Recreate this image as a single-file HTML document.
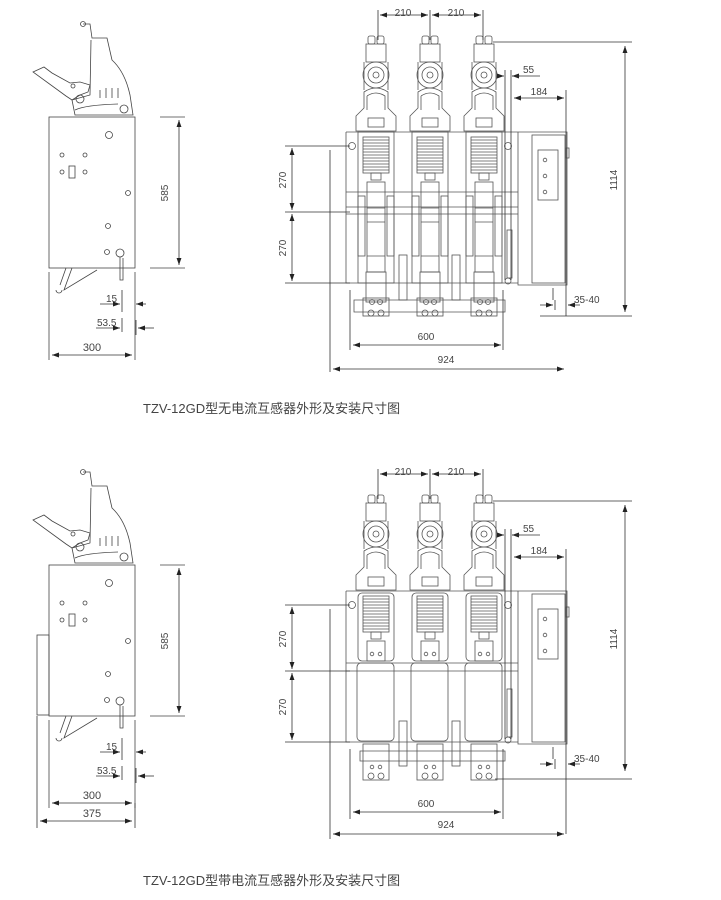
<!DOCTYPE html>
<html><head><meta charset="utf-8"><style>
html,body{margin:0;padding:0;background:#fff;}
svg{display:block;}
text{font-family:"Liberation Sans","Noto Sans CJK SC",sans-serif;fill:#444;}
</style></head><body>
<svg width="721" height="900" viewBox="0 0 721 900" xmlns="http://www.w3.org/2000/svg">
<defs>
<marker id="a" viewBox="0 0 10 10" refX="10" refY="5" markerWidth="9" markerHeight="9" orient="auto-start-reverse"><path d="M0,1.5 L10,5 L0,8.5z" fill="#222"/></marker>
<g id="poleTop" fill="none" stroke="#555" stroke-width="0.8">
  <rect x="-8" y="36" width="7" height="8" rx="2"/><rect x="1" y="36" width="7" height="8" rx="2"/>
  <rect x="-10" y="44" width="20" height="18"/>
  <path d="M-12,62 L-12,90 M12,62 L12,90"/>
  <circle cx="0" cy="75" r="13"/><circle cx="0" cy="75" r="8"/><circle cx="0" cy="75" r="3"/>
  <path d="M-12,92 Q0,84 12,92 L12,108 L20,116 L20,131 L-20,131 L-20,116 L-12,108z"/>
  <path d="M-9,96 Q0,90 9,96 L9,110 M-9,96 L-9,110"/>
  <rect x="-8" y="118" width="16" height="9"/>
</g>
<g id="fins" fill="none" stroke="#555" stroke-width="0.8">
  <rect x="-13" y="137" width="26" height="36"/>
  <path d="M-13,140H13M-13,143H13M-13,146H13M-13,149H13M-13,152H13M-13,155H13M-13,158H13M-13,161H13M-13,164H13M-13,167H13M-13,170H13"/>
  <rect x="-5" y="173" width="10" height="7"/>
</g>
<g id="poleLow" fill="none" stroke="#555" stroke-width="0.8">
  <rect x="-18" y="132" width="36" height="151"/>
  <use href="#fins"/>
  <rect x="-9" y="182" width="18" height="90"/>
  <rect x="-18" y="196" width="7" height="60"/><rect x="11" y="196" width="7" height="60"/>
  <path d="M-9,208H9M-9,222H9M-9,256H9"/>
  <rect x="-10" y="272" width="20" height="30"/>
  <rect x="-13" y="298" width="26" height="18"/>
  <circle cx="-4" cy="302" r="2.5"/><circle cx="4" cy="302" r="2.5"/>
  <circle cx="-5" cy="313" r="3"/><circle cx="5" cy="313" r="3"/>
</g>
<g id="poleCT" fill="none" stroke="#555" stroke-width="0.8">
  <rect x="-18" y="134" width="36" height="68" rx="4"/>
  <use href="#fins"/>
  <rect x="-9" y="182" width="18" height="20"/>
  <circle cx="-4" cy="195" r="1.8"/><circle cx="4" cy="195" r="1.8"/>
  <rect x="-19" y="204" width="37" height="78" rx="4"/>
  <rect x="-13" y="285" width="26" height="36"/>
  <circle cx="-4" cy="308" r="1.8"/><circle cx="4" cy="308" r="1.8"/>
  <circle cx="-5" cy="317" r="3"/><circle cx="5" cy="317" r="3"/>
</g>
<g id="leftTop" fill="none" stroke="#444" stroke-width="0.8">
  <path d="M83,24 L90,24 L92,38 L107,38 L112,60 Q125,72 130,95 L133,115 L75,115 L72,100 L90,95 L91,40"/>
  <circle cx="83" cy="24" r="2.5"/>
  <path d="M33,72 L44,67 L52,73 L70,83 L80,82 L90,85 L88,92 L80,95 L72,100 L66,96z"/>
  <circle cx="73" cy="86" r="2"/><circle cx="80" cy="99" r="4"/>
  <path d="M100,90V98M106,88V98M112,88V98M118,88V98"/>
  <circle cx="124" cy="109" r="4"/><path d="M75,110 Q85,105 118,104"/>
</g>
<g id="leftBox" fill="none" stroke="#444" stroke-width="0.8">
  <rect x="49" y="117" width="86" height="151"/>
  <circle cx="109" cy="135" r="3.5"/><circle cx="62" cy="155" r="2"/><circle cx="85" cy="155" r="2"/>
  <circle cx="62" cy="172" r="2"/><circle cx="85" cy="172" r="2"/><rect x="69" y="166" width="6" height="12"/>
  <circle cx="128" cy="193" r="2.5"/><circle cx="108" cy="226" r="2.5"/><circle cx="107" cy="252" r="2.5"/><circle cx="120" cy="253" r="4"/>
  <path d="M120,257V280h3V258M66,268 L60,285 M72,268 L64,290 L97,270 M56,290 a3,3 0 1,0 6,0"/>
  <path d="M49,272V360 M135,272V360 M160,117H185 M150,268H185"/>
</g>
<g id="rightFrame" fill="none" stroke="#555" stroke-width="0.8">
  <path d="M346,132H567V285H518V132 M346,132V283H518"/>
  <rect x="532" y="135" width="33" height="148"/>
  <rect x="538" y="150" width="20" height="50"/>
  <circle cx="545" cy="160" r="1.8"/><circle cx="545" cy="176" r="1.8"/><circle cx="545" cy="192" r="1.8"/>
  <rect x="566" y="148" width="3" height="10"/>
  <circle cx="352" cy="146" r="3.5"/><circle cx="508" cy="146" r="3.5"/>
  <rect x="507" y="230" width="5" height="48"/><circle cx="508" cy="281" r="3"/>
</g>
</defs>

<use href="#leftTop"/><use href="#leftBox"/>
<g stroke="#333" stroke-width="0.8" fill="none">
  <path d="M179,120V265" marker-start="url(#a)" marker-end="url(#a)"/>
  <path d="M52,355H132" marker-start="url(#a)" marker-end="url(#a)"/>
  <path d="M100,304H120" marker-end="url(#a)"/><path d="M146,304H136" marker-end="url(#a)"/>
  <path d="M96,328H120" marker-end="url(#a)"/><path d="M154,328H138" marker-end="url(#a)"/>
  <path d="M122,290V312 M122,318V332 M136,320V335"/>
</g>
<text x="168" y="193" font-size="10" transform="rotate(-90 168 193)" text-anchor="middle">585</text>
<text x="106" y="302" font-size="10">15</text>
<text x="97" y="326" font-size="10">53.5</text>
<text x="92" y="351" font-size="11" text-anchor="middle">300</text>

<use href="#rightFrame"/>
<g fill="none" stroke="#555" stroke-width="0.8">
  <path d="M346,192H518M346,207H518M346,214H518"/>
  <rect x="399" y="255" width="8" height="45"/><rect x="452" y="255" width="8" height="45"/>
  <path d="M354,300H505V312H354z"/>
</g>
<use href="#poleTop" x="376"/><use href="#poleTop" x="430"/><use href="#poleTop" x="484"/>
<use href="#poleLow" x="376"/><use href="#poleLow" x="430"/><use href="#poleLow" x="484"/>
<g stroke="#333" stroke-width="0.8" fill="none">
  <path d="M378,10V40M430,10V40M483,10V40"/>
  <path d="M380,15H428" marker-start="url(#a)" marker-end="url(#a)"/>
  <path d="M432,15H481" marker-start="url(#a)" marker-end="url(#a)"/>
  <path d="M493,42H632M540,316H632"/><path d="M625,46V312" marker-start="url(#a)" marker-end="url(#a)"/>
  <path d="M505,70V280M511,70V280"/><path d="M498,76H504" marker-end="url(#a)"/><path d="M520,76H512" marker-end="url(#a)"/><path d="M512,76H540"/>
  <path d="M514,98H564" marker-start="url(#a)" marker-end="url(#a)"/><path d="M566,90V316"/>
  <path d="M285,146H350M285,212H350M285,283H350M330,150V372M350,290V350M503,290V350"/>
  <path d="M292,148V210" marker-start="url(#a)" marker-end="url(#a)"/>
  <path d="M292,214V281" marker-start="url(#a)" marker-end="url(#a)"/>
  <path d="M353,345H501" marker-start="url(#a)" marker-end="url(#a)"/>
  <path d="M333,369H564" marker-start="url(#a)" marker-end="url(#a)"/>
  <path d="M553,288V300M540,305H552M580,305H568M555,300V310"/><path d="M546,305H553" marker-end="url(#a)"/><path d="M575,305H568" marker-end="url(#a)"/>
</g>
<text x="403" y="16" font-size="10" text-anchor="middle">210</text>
<text x="456" y="16" font-size="10" text-anchor="middle">210</text>
<text x="523" y="73" font-size="10">55</text>
<text x="539" y="95" font-size="10" text-anchor="middle">184</text>
<text x="617" y="180" font-size="10" transform="rotate(-90 617 180)" text-anchor="middle">1114</text>
<text x="286" y="180" font-size="10" transform="rotate(-90 286 180)" text-anchor="middle">270</text>
<text x="286" y="248" font-size="10" transform="rotate(-90 286 248)" text-anchor="middle">270</text>
<text x="574" y="303" font-size="10">35-40</text>
<text x="426" y="340" font-size="10" text-anchor="middle">600</text>
<text x="446" y="363" font-size="10" text-anchor="middle">924</text>
<text x="143" y="413" font-size="13" fill="#555">TZV-12GD型无电流互感器外形及安装尺寸图</text>

<g transform="translate(0,448)">
  <use href="#leftTop"/><use href="#leftBox"/>
  <rect x="37" y="187" width="12" height="80" fill="none" stroke="#444" stroke-width="0.8"/>
  <g stroke="#333" stroke-width="0.8" fill="none">
    <path d="M179,120V265" marker-start="url(#a)" marker-end="url(#a)"/>
    <path d="M52,355H132" marker-start="url(#a)" marker-end="url(#a)"/>
    <path d="M40,373H132" marker-start="url(#a)" marker-end="url(#a)"/>
    <path d="M37,268V380M135,355V380"/>
    <path d="M100,304H120" marker-end="url(#a)"/><path d="M146,304H136" marker-end="url(#a)"/>
    <path d="M96,328H120" marker-end="url(#a)"/><path d="M154,328H138" marker-end="url(#a)"/>
    <path d="M122,290V312 M122,318V332 M136,320V335"/>
  </g>
  <text x="168" y="193" font-size="10" transform="rotate(-90 168 193)" text-anchor="middle">585</text>
  <text x="106" y="302" font-size="10">15</text>
  <text x="97" y="326" font-size="10">53.5</text>
  <text x="92" y="351" font-size="11" text-anchor="middle">300</text>
  <text x="92" y="369" font-size="11" text-anchor="middle">375</text>
</g>

<g transform="translate(0,459)">
  <use href="#rightFrame"/>
  <g fill="none" stroke="#555" stroke-width="0.8">
    <path d="M346,204H518M346,212H518"/>
    <rect x="399" y="262" width="8" height="45"/><rect x="452" y="262" width="8" height="45"/>
    <path d="M360,292H505V302H360z"/>
  </g>
  <use href="#poleTop" x="376"/><use href="#poleTop" x="430"/><use href="#poleTop" x="484"/>
  <use href="#poleCT" x="376"/><use href="#poleCT" x="430"/><use href="#poleCT" x="484"/>
  <g stroke="#333" stroke-width="0.8" fill="none">
    <path d="M378,10V40M430,10V40M483,10V40"/>
    <path d="M380,15H428" marker-start="url(#a)" marker-end="url(#a)"/>
    <path d="M432,15H481" marker-start="url(#a)" marker-end="url(#a)"/>
    <path d="M493,42H632M495,320H632"/><path d="M625,46V312" marker-start="url(#a)" marker-end="url(#a)"/>
    <path d="M505,70V280M511,70V280"/><path d="M498,76H504" marker-end="url(#a)"/><path d="M520,76H512" marker-end="url(#a)"/><path d="M512,76H540"/>
    <path d="M514,98H564" marker-start="url(#a)" marker-end="url(#a)"/><path d="M566,90V375"/>
    <path d="M285,146H350M285,212H350M285,283H350M330,150V380M350,290V360M503,290V360"/>
    <path d="M292,148V210" marker-start="url(#a)" marker-end="url(#a)"/>
    <path d="M292,214V281" marker-start="url(#a)" marker-end="url(#a)"/>
    <path d="M353,353H501" marker-start="url(#a)" marker-end="url(#a)"/>
    <path d="M333,375H564" marker-start="url(#a)" marker-end="url(#a)"/>
    <path d="M553,288V300M540,305H552M580,305H568M555,300V310"/><path d="M546,305H553" marker-end="url(#a)"/><path d="M575,305H568" marker-end="url(#a)"/>
  </g>
  <text x="403" y="16" font-size="10" text-anchor="middle">210</text>
  <text x="456" y="16" font-size="10" text-anchor="middle">210</text>
  <text x="523" y="73" font-size="10">55</text>
  <text x="539" y="95" font-size="10" text-anchor="middle">184</text>
  <text x="617" y="180" font-size="10" transform="rotate(-90 617 180)" text-anchor="middle">1114</text>
  <text x="286" y="180" font-size="10" transform="rotate(-90 286 180)" text-anchor="middle">270</text>
  <text x="286" y="248" font-size="10" transform="rotate(-90 286 248)" text-anchor="middle">270</text>
  <text x="574" y="303" font-size="10">35-40</text>
  <text x="426" y="348" font-size="10" text-anchor="middle">600</text>
  <text x="446" y="369" font-size="10" text-anchor="middle">924</text>
</g>
<text x="143" y="885" font-size="13" fill="#555">TZV-12GD型带电流互感器外形及安装尺寸图</text>
</svg>
</body></html>
